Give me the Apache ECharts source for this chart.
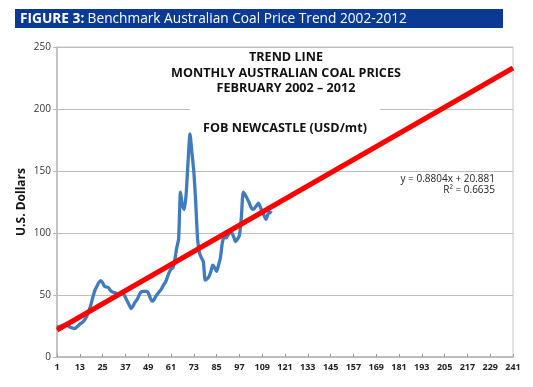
<!DOCTYPE html>
<html>
<head>
<meta charset="utf-8">
<script src="https://cdn.jsdelivr.net/npm/echarts@6/dist/echarts.min.js"></script>
<style>
  html, body { margin: 0; padding: 0; background: #fff; }
  #chart { width: 533px; height: 387px; }
</style>
</head>
<body>
<div id="chart"></div>
<script>
// ---- Data ----
var xTickLabels = ['1','13','25','37','49','61','73','85','97','109','121','133','145','157','169','181','193','205','217','229','241'];
var monthCount = 241;
var yTickLabels = [0, 50, 100, 150, 200, 250];

// Monthly Australian coal prices (USD/mt), Feb 2002 onwards
var coalPrices = [
  24, 24.5, 25, 25.5, 26, 26, 25, 24, 23.5, 23,
  23.5, 25, 26.5, 27.5, 29, 31, 34, 38, 43, 49,
  54, 57, 60, 61.5, 60, 57, 56.5, 56, 54, 52.5,
  52, 51.5, 51, 51, 51, 51, 48, 45, 42, 39,
  41, 44, 46, 49, 52, 53, 53, 53, 52, 48,
  45, 46, 49, 51, 53, 55, 58, 60, 64, 68,
  71, 72, 78, 88, 95, 133, 122, 119, 132, 158,
  180, 165, 150, 125, 95, 84, 80, 77, 62, 63,
  65, 69, 74, 72, 69, 74, 80, 92, 97, 96,
  98, 101, 100, 97, 93, 95, 98, 112, 133, 131,
  128, 125, 121, 119, 120, 122, 124, 121, 117, 114,
  111, 115, 117, 116
];

// Linear trend line end points: y = 0.8804x + 20.881 at x = 1 and x = 241
var trendStartMonth = '1', trendStartValue = 21.76;
var trendEndMonth = '241', trendEndValue = 233.06;

var chartTitle = 'Benchmark Australian Coal Price Trend 2002-2012';
var figureLabel = 'FIGURE 3:';
var innerTitleLines = ['TREND LINE', 'MONTHLY AUSTRALIAN COAL PRICES', 'FEBRUARY 2002 \u2013 2012'];
var subTitle = 'FOB NEWCASTLE (USD/mt)';
var equationLines = ['y = 0.8804x + 20.881', 'R\u00b2 = 0.6635'];
var yAxisName = 'U.S. Dollars';

// ---- Build ----
var categories = [];
for (var i = 1; i <= monthCount; i++) categories.push(String(i));
var labelSet = {};
xTickLabels.forEach(function (l) { labelSet[l] = true; });

var FONT = '"Open Sans", Lato, sans-serif';
var chart = echarts.init(document.getElementById('chart'), null, { renderer: 'canvas' });

chart.setOption({
  animation: false,
  backgroundColor: '#ffffff',
  grid: { left: 57, right: 20, top: 47, bottom: 30, show: true, borderColor: '#c6c6c6', borderWidth: 1, containLabel: false },
  xAxis: {
    type: 'category',
    data: categories,
    boundaryGap: false,
    axisLine: { lineStyle: { color: '#b8b8b8', width: 1.5 } },
    axisTick: { show: true, inside: true, length: 3, interval: function (idx, v) { return !!labelSet[v]; }, lineStyle: { color: '#999' } },
    axisLabel: {
      interval: function (idx, v) { return !!labelSet[v]; },
      color: '#222', fontFamily: FONT, fontSize: 9, fontWeight: 'bold', margin: 6
    },
    splitLine: { show: false }
  },
  yAxis: {
    type: 'value',
    min: yTickLabels[0],
    max: yTickLabels[yTickLabels.length - 1],
    interval: 50,
    name: yAxisName,
    nameLocation: 'middle',
    nameGap: 29,
    nameMoveOverlap: false,
    nameRotate: 90,
    nameTextStyle: { fontFamily: FONT, fontSize: 12, fontWeight: 'bold', color: '#111' },
    axisLine: { show: true, lineStyle: { color: '#b8b8b8', width: 1.5 } },
    axisTick: { show: true, length: 4, lineStyle: { color: '#b8b8b8' } },
    axisLabel: { color: '#333', fontFamily: FONT, fontSize: 10, margin: 6 },
    splitLine: { show: true, lineStyle: { color: '#bdbdbd', width: 1 } }
  },
  series: [
    {
      name: 'Coal price',
      type: 'line',
      data: coalPrices,
      smooth: 0.2,
      showSymbol: false,
      lineStyle: { color: '#3f7bbd', width: 3.3 },
      z: 3
    },
    {
      name: 'Trend',
      type: 'line',
      data: [[trendStartMonth, trendStartValue], [trendEndMonth, trendEndValue]],
      showSymbol: false,
      lineStyle: { color: '#ff0000', width: 5 },
      z: 4
    }
  ],
  graphic: [
    { type: 'rect', shape: { x: 15, y: 9, width: 488, height: 19 }, style: { fill: '#0b3a94' }, z: 10 },
    {
      type: 'text', x: 20, y: 19, z: 11,
      style: {
        text: '{b|' + figureLabel + '} {n|' + chartTitle + '}',
        verticalAlign: 'middle',
        rich: {
          b: { fontFamily: FONT, fontSize: 13.7, fontWeight: 'bold', fill: '#fff' },
          n: { fontFamily: FONT, fontSize: 13.7, fill: '#fff' }
        }
      }
    },
    { type: 'rect', shape: { x: 190, y: 104, width: 190, height: 9 }, style: { fill: '#fff' }, z: 1 },
    {
      type: 'text', x: 286, y: 73, z: 12,
      style: {
        text: innerTitleLines.join('\n'), align: 'center', verticalAlign: 'middle',
        fontFamily: FONT, fontSize: 12.6, fontWeight: 'bold', fill: '#111', lineHeight: 15.5
      }
    },
    {
      type: 'text', x: 285, y: 128, z: 12,
      style: { text: subTitle, align: 'center', verticalAlign: 'middle', fontFamily: FONT, fontSize: 12.6, fontWeight: 'bold', fill: '#111' }
    },
    {
      type: 'text', x: 495, y: 185, z: 12,
      style: { text: equationLines.join('\n'), align: 'right', verticalAlign: 'middle', fontFamily: FONT, fontSize: 10, fill: '#222', lineHeight: 11 }
    }
  ]
});
</script>
</body>
</html>
